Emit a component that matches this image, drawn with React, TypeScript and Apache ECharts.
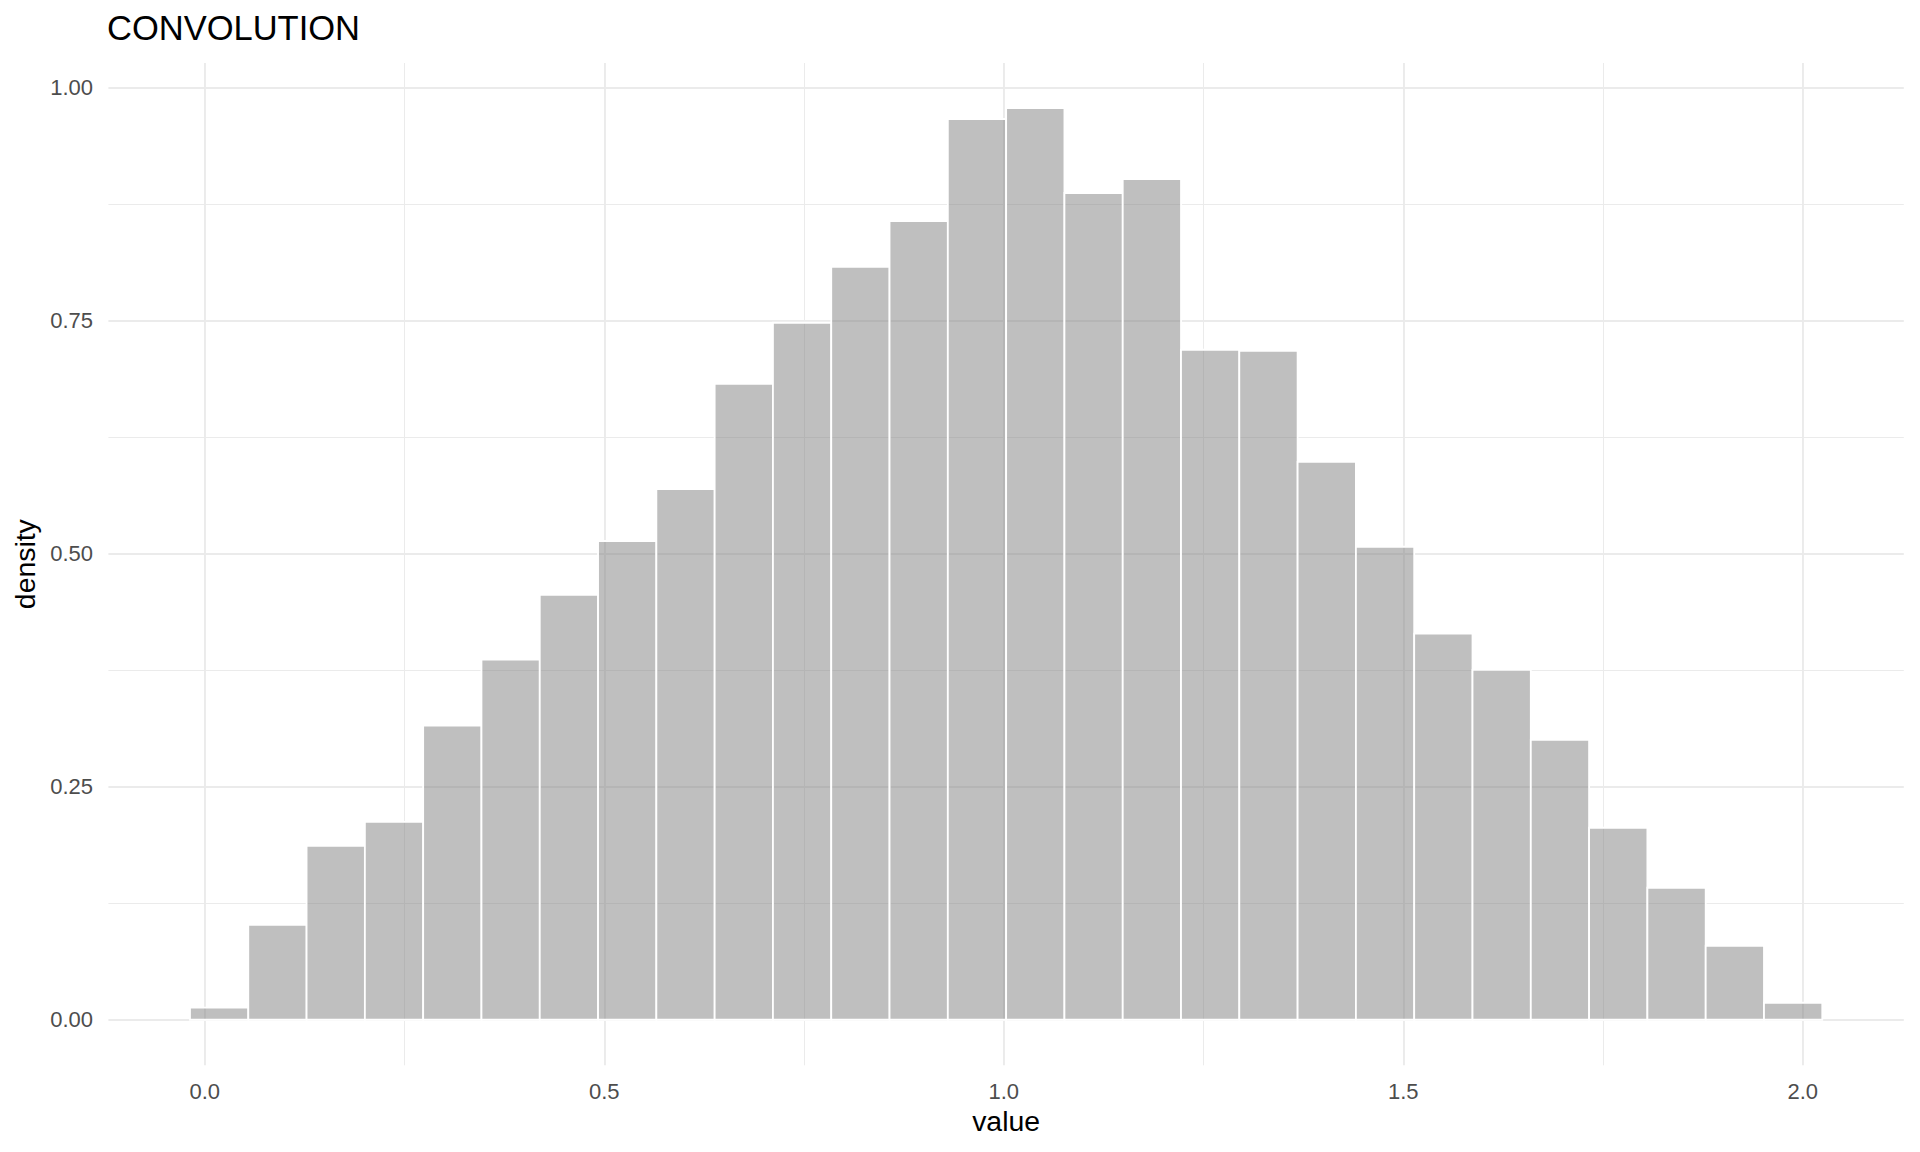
import React, { useEffect, useRef } from "react";
import * as echarts from "echarts";

// Histogram bins (value axis) and density heights
const binStart = -0.0185;
const binWidth = 0.07296;
const densities = [
  0.0129, 0.1019, 0.1867, 0.2124, 0.3155, 0.3863, 0.456, 0.5137, 0.5695,
  0.6824, 0.7479, 0.8079, 0.857, 0.9665, 0.9783, 0.8871, 0.9021, 0.7189,
  0.7178, 0.5987, 0.5075, 0.4142, 0.3755, 0.3004, 0.206, 0.1416, 0.0794,
  0.0182,
];

const xMajorTicks = [0, 0.5, 1.0, 1.5, 2.0];
const xMinorTicks = [0.25, 0.75, 1.25, 1.75];
const yMajorTicks = [0, 0.25, 0.5, 0.75, 1.0];
const yMinorTicks = [0.125, 0.375, 0.625, 0.875];

const xRange = [-0.1206, 2.1264];
const yRange = [-0.0489, 1.0266];

const FONT = "'Liberation Sans', Arial, Helvetica, sans-serif";

export default function App() {
  const ref = useRef<HTMLDivElement>(null);

  useEffect(() => {
    document.body.style.margin = "0";
    if (!ref.current) return;
    const chart = echarts.init(ref.current, undefined, { renderer: "svg" });

    const data = densities.map((d, i) => [
      binStart + i * binWidth,
      binStart + (i + 1) * binWidth,
      d,
    ]);

    const majorLine = { show: true, lineStyle: { color: "#EBEBEB", width: 1.9 } };
    const minorLine = { show: true, lineStyle: { color: "#EBEBEB", width: 1.0 } };

    chart.setOption({
      animation: false,
      backgroundColor: "#FFFFFF",
      title: {
        text: "CONVOLUTION",
        left: 107,
        top: 10,
        padding: 0,
        textStyle: {
          fontFamily: FONT,
          fontSize: 34.5,
          fontWeight: "normal",
          color: "#000000",
        },
      },
      grid: {
        left: 108.4,
        top: 63,
        width: 1795.4,
        height: 1002.3,
        containLabel: false,
        outerBoundsMode: "none",
      },
      xAxis: [
        {
          type: "value",
          min: xRange[0],
          max: xRange[1],
          position: "bottom",
          name: "value",
          nameLocation: "middle",
          nameGap: 42,
          nameTextStyle: { fontFamily: FONT, fontSize: 28.4, color: "#000000" },
          axisLine: { show: false },
          axisTick: { show: false, customValues: xMajorTicks },
          axisLabel: {
            show: true,
            customValues: xMajorTicks,
            margin: 14.7,
            fontFamily: FONT,
            fontSize: 22,
            color: "#4D4D4D",
            formatter: (v: number) => v.toFixed(1),
          },
          splitLine: majorLine,
        },
        {
          type: "value",
          min: xRange[0],
          max: xRange[1],
          position: "bottom",
          axisLine: { show: false },
          axisTick: { show: false, customValues: xMinorTicks },
          axisLabel: { show: false, customValues: xMinorTicks },
          splitLine: minorLine,
        },
      ],
      yAxis: [
        {
          type: "value",
          min: yRange[0],
          max: yRange[1],
          position: "left",
          name: "density",
          nameLocation: "middle",
          nameGap: 67,
          nameTextStyle: { fontFamily: FONT, fontSize: 28.4, color: "#000000" },
          axisLine: { show: false },
          axisTick: { show: false, customValues: yMajorTicks },
          axisLabel: {
            show: true,
            customValues: yMajorTicks,
            margin: 15.3,
            fontFamily: FONT,
            fontSize: 22,
            color: "#4D4D4D",
            formatter: (v: number) => v.toFixed(2),
          },
          splitLine: majorLine,
        },
        {
          type: "value",
          min: yRange[0],
          max: yRange[1],
          position: "left",
          axisLine: { show: false },
          axisTick: { show: false, customValues: yMinorTicks },
          axisLabel: { show: false, customValues: yMinorTicks },
          splitLine: minorLine,
        },
      ],
      series: [
        {
          type: "custom",
          xAxisIndex: 0,
          yAxisIndex: 0,
          data,
          encode: { x: [0, 1], y: 2 },
          renderItem: (params: any, api: any) => {
            const x0 = api.value(0);
            const x1 = api.value(1);
            const y = api.value(2);
            const p0 = api.coord([x0, y]);
            const p1 = api.coord([x1, 0]);
            return {
              type: "rect",
              shape: {
                x: p0[0],
                y: p0[1],
                width: p1[0] - p0[0],
                height: p1[1] - p0[1],
              },
              style: {
                fill: "rgba(127,127,127,0.5)",
                stroke: "#FFFFFF",
                lineWidth: 1.8,
              },
            };
          },
        },
      ],
    });

    return () => chart.dispose();
  }, []);

  return <div ref={ref} style={{ width: 1920, height: 1152 }} />;
}
